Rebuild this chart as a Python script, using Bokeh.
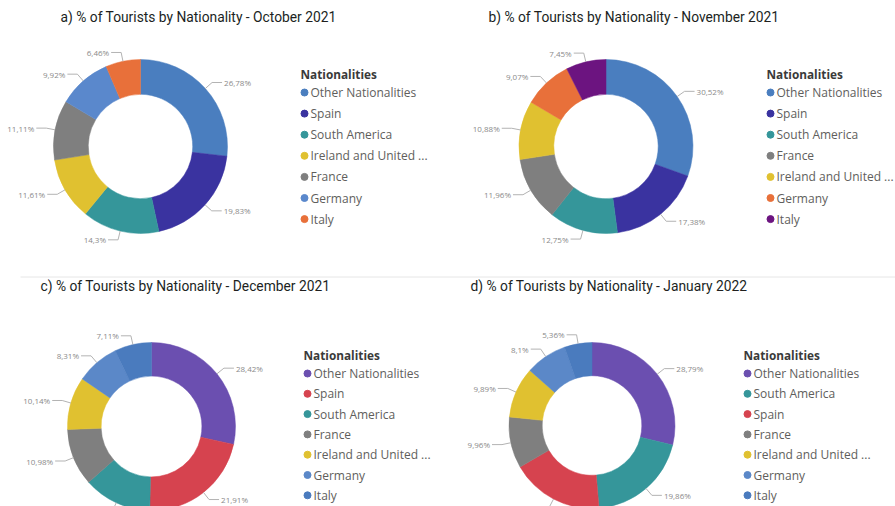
import numpy as np
from bokeh.plotting import figure
from bokeh.models import Range1d, ColumnDataSource
from bokeh.embed import file_html
from bokeh.resources import INLINE
from bokeh.core.properties import value

# ---------------- data ----------------
titles = [
    "a) % of Tourists by Nationality - October 2021",
    "b) % of Tourists by Nationality - November 2021",
    "c) % of Tourists by Nationality - December 2021",
    "d) % of Tourists by Nationality - January 2022",
]
legend_title = "Nationalities"

cats_a = ["Other Nationalities", "Spain", "South America", "Ireland and United ...", "France", "Germany", "Italy"]
vals_a = [26.78, 19.83, 14.3, 11.61, 11.11, 9.92, 6.46]
cols_a = ["#4A7EBF", "#3A33A0", "#35969A", "#E0C130", "#7F7F7F", "#5A88CC", "#E8703A"]

cats_b = ["Other Nationalities", "Spain", "South America", "France", "Ireland and United ...", "Germany", "Italy"]
vals_b = [30.52, 17.38, 12.75, 11.96, 10.88, 9.07, 7.45]
cols_b = ["#4A7EBF", "#3A33A0", "#35969A", "#7F7F7F", "#E0C130", "#E8703A", "#6C1480"]

cats_c = ["Other Nationalities", "Spain", "South America", "France", "Ireland and United ...", "Germany", "Italy"]
vals_c = [28.42, 21.91, 13.13, 10.98, 10.14, 8.31, 7.11]
cols_c = ["#6B4FB0", "#D6434F", "#35969A", "#7F7F7F", "#E0C130", "#5B88C8", "#4A7BBE"]

cats_d = ["Other Nationalities", "South America", "Spain", "France", "Ireland and United ...", "Germany", "Italy"]
vals_d = [28.79, 19.86, 18.04, 9.96, 9.89, 8.1, 5.36]
cols_d = ["#6B4FB0", "#35969A", "#D6434F", "#7F7F7F", "#E0C130", "#5B88C8", "#4A7BBE"]

# ---------------- layout (page pixel coordinates) ----------------
W, H = 895, 506
panels = [
    dict(cats=cats_a, vals=vals_a, cols=cols_a, title=titles[0], tx=60, ty=16,
         cx=140, cy=146, r=87, lx=304, ly0=73, dy=21.1),
    dict(cats=cats_b, vals=vals_b, cols=cols_b, title=titles[1], tx=488, ty=16,
         cx=605.5, cy=146, r=87, lx=770, ly0=73, dy=21.1),
    dict(cats=cats_c, vals=vals_c, cols=cols_c, title=titles[2], tx=40, ty=285,
         cx=151, cy=426, r=84, lx=307, ly0=354, dy=20.3),
    dict(cats=cats_d, vals=vals_d, cols=cols_d, title=titles[3], tx=470, ty=285,
         cx=591.5, cy=425, r=83, lx=747, ly0=354, dy=20.3),
]


def Y(py):
    # page y (downwards) -> data y (upwards)
    return H - py


p = figure(width=W, height=H, output_backend="svg", toolbar_location=None,
           x_range=Range1d(0, W), y_range=Range1d(0, H),
           min_border=0, border_fill_color="white", background_fill_color="white")
p.axis.visible = False
p.grid.visible = False
p.outline_line_color = None

# separator line between rows
p.segment(x0=[20], y0=[Y(276.5)], x1=[W], y1=[Y(276.5)], line_color="#E6E6E6", line_width=1)

label_font = value("Open Sans")

for pn in panels:
    vals = np.array(pn["vals"], dtype=float)
    frac = vals / vals.sum()
    c1 = np.cumsum(frac)
    c0 = c1 - frac
    start = np.pi / 2 - c1 * 2 * np.pi
    end = np.pi / 2 - c0 * 2 * np.pi
    cx, cy, r = pn["cx"], Y(pn["cy"]), pn["r"]
    src = ColumnDataSource(dict(start=start, end=end, color=pn["cols"]))
    p.annular_wedge(x=cx, y=cy, inner_radius=r * 0.6, outer_radius=r,
                    start_angle="start", end_angle="end", direction="anticlock",
                    fill_color="color", line_color="color", line_width=0.5, source=src)

    # data labels with leader lines
    mid = (c0 + c1) / 2 * 2 * np.pi  # clockwise from top
    sx, sy = np.sin(mid), np.cos(mid)
    ex, ey = cx + r * sx, cy + r * sy
    bx, by = cx + (r + 9) * sx, cy + (r + 9) * sy
    side = np.where(sx >= 0, 1, -1)
    hx = bx + side * 10
    xs = [[a, b, c] for a, b, c in zip(ex, bx, hx)]
    ys = [[a, b, b] for a, b in zip(ey, by)]
    p.multi_line(xs=xs, ys=ys, line_color="#B3B3B3", line_width=1)
    labels = [("%s" % v).replace(".", ",") + "%" for v in pn["vals"]]
    right = side > 0
    lsrc_r = ColumnDataSource(dict(x=hx[right] + 2, y=by[right], t=[l for l, k in zip(labels, right) if k]))
    lsrc_l = ColumnDataSource(dict(x=hx[~right] - 2, y=by[~right], t=[l for l, k in zip(labels, right) if not k]))
    p.text(x="x", y="y", text="t", source=lsrc_r, text_align="left", text_baseline="middle",
           text_font=label_font, text_font_size="8px", text_color="#8A8A8A")
    p.text(x="x", y="y", text="t", source=lsrc_l, text_align="right", text_baseline="middle",
           text_font=label_font, text_font_size="8px", text_color="#8A8A8A")

    # title
    p.text(x=[pn["tx"]], y=[Y(pn["ty"])], text=[pn["title"]], text_align="left",
           text_baseline="middle", text_font=value("Roboto"), text_font_size="13.8px",
           text_color="#201F1E")

    # legend
    p.text(x=[pn["lx"] - 4], y=[Y(pn["ly0"])], text=[legend_title], text_align="left",
           text_baseline="middle", text_font=value("Open Sans"), text_font_style="bold",
           text_font_size="11.8px", text_color="#3A3A3A")
    n = len(pn["cats"])
    ly = [Y(pn["ly0"] + 19 + i * pn["dy"]) for i in range(n)]
    lsrc = ColumnDataSource(dict(x=[pn["lx"]] * n, tx=[pn["lx"] + 6] * n, y=ly,
                                 t=pn["cats"], c=pn["cols"]))
    p.scatter(x="x", y="y", source=lsrc, size=7, marker="circle", fill_color="c", line_color="c")
    p.text(x="tx", y="y", text="t", source=lsrc, text_align="left", text_baseline="middle",
           text_font=value("Open Sans"), text_font_size="12px", text_color="#605E5C")

open("out.html", "w").write(file_html(p, INLINE))
